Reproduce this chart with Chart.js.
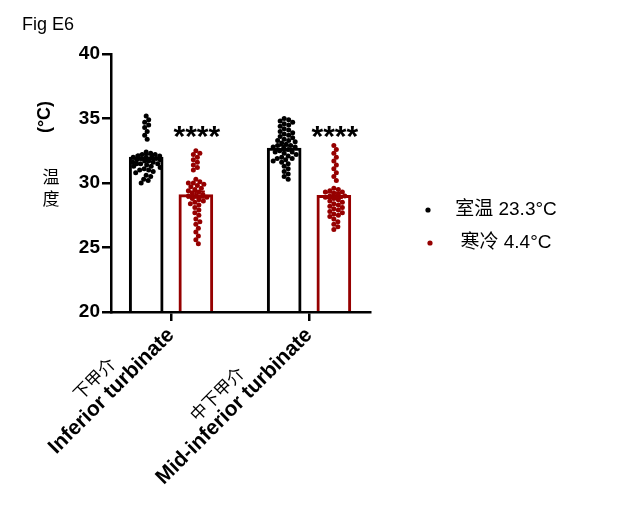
<!DOCTYPE html>
<html>
<head>
<meta charset="utf-8">
<script src="https://cdn.jsdelivr.net/npm/chart.js@4.4.1/dist/chart.umd.min.js"></script>
<style>
html,body{margin:0;padding:0;background:#fff;}
#wrap{width:625px;height:509px;position:relative;}
</style>
</head>
<body>
<div id="wrap"><canvas id="c" width="625" height="509"></canvas></div>
<script>
// ---------------- data ----------------
const categoriesEn = ['Inferior turbinate', 'Mid-inferior turbinate'];
const categoriesZh = ['下甲介', '中下甲介'];
const seriesNames = ['室温 23.3°C', '寒冷 4.4°C'];
const yTicks = [20, 25, 30, 35, 40];
const meanRoom = [32.0, 32.7];
const meanCold = [29.1, 29.05];
const semRoom = [0.2, 0.18];
const semCold = [0.25, 0.22];
const significance = ['****', '****'];

const pointsRoomInferior = [35.2, 34.9, 34.7, 34.5, 34.3, 34.0, 33.7, 33.4,
  32.4, 32.3, 32.2, 32.2, 32.1, 32.1, 32.0, 32.0, 32.0, 31.9, 31.9, 31.8, 31.8,
  31.7, 31.7, 31.6, 31.6, 31.5, 31.5, 31.4, 31.3, 31.2, 31.1, 31.0, 30.9, 30.8,
  30.6, 30.5, 30.3, 30.2, 30.0, 31.5, 31.3, 31.0];
const pointsColdInferior = [32.5, 32.3, 32.2, 32.0, 31.8, 31.6, 31.4, 31.2, 31.0,
  30.3, 30.1, 30.0, 30.0, 29.9, 29.8, 29.7, 29.6, 29.5, 29.4, 29.3, 29.2, 29.1,
  29.0, 29.0, 28.9, 28.8, 28.7, 28.6, 28.5, 28.4, 28.3, 28.1, 27.9, 27.7, 27.5,
  27.2, 27.0, 26.8, 26.5, 26.2, 25.9, 25.6, 25.3];
const pointsRoomMid = [35.0, 34.9, 34.8, 34.7, 34.6, 34.5, 34.4, 34.2, 34.1, 34.0,
  33.9, 33.8, 33.7, 33.6, 33.5, 33.4, 33.3, 33.2, 33.1, 33.0, 32.9, 32.9, 32.8,
  32.7, 32.6, 32.5, 32.4, 32.3, 32.2, 32.1, 32.0, 31.9, 31.8, 31.7, 31.6, 31.5,
  31.3, 31.1, 30.9, 30.7, 30.5, 30.3, 33.3, 32.8, 32.4, 31.9];
const pointsColdMid = [32.9, 32.6, 32.3, 32.0, 31.7, 31.4, 31.1, 30.8, 30.5, 30.2,
  29.6, 29.5, 29.4, 29.3, 29.3, 29.2, 29.1, 29.0, 29.0, 28.9, 28.8, 28.7, 28.6,
  28.5, 28.4, 28.3, 28.2, 28.1, 28.0, 27.9, 27.8, 27.7, 27.6, 27.5, 27.4, 27.2,
  27.0, 26.8, 26.6, 26.4];

// ---------------- styling ----------------
const BLACK = '#000000';
const RED = '#960000';
const GROUP_OFF = 0.18;
const LATIN = '"Liberation Sans", Arial, Helvetica';
const CJK = '"Noto Sans CJK SC"';

// simple beeswarm layout (x spread only, values untouched)
function swarm(values, center) {
  const pxX = 138, pxY = 12.9, d = 4.6, maxOff = 14;
  const placed = [];
  const sorted = values.slice().sort((a, b) => b - a);
  const out = [];
  for (const v of sorted) {
    const py = v * pxY;
    let best = null, bestScore = -1, bestOff = 0;
    for (let k = 0; k < 400; k++) {
      const off = (k % 2 ? 1 : -1) * Math.ceil(k / 2) * 0.5;
      if (Math.abs(off) > maxOff) break;
      let minD = Infinity;
      for (const q of placed) minD = Math.min(minD, Math.hypot(q.x - off, q.y - py));
      if (minD >= d) { best = off; break; }
      if (minD > bestScore) { bestScore = minD; bestOff = off; }
    }
    if (best === null) best = bestOff;
    placed.push({ x: best, y: py });
    out.push({ x: center + best / pxX, y: v });
  }
  return out;
}

const barRoom = meanRoom.map((v, i) => ({ x: i - GROUP_OFF, y: v }));
const barCold = meanCold.map((v, i) => ({ x: i + GROUP_OFF, y: v }));

const annot = {
  id: 'annot',
  afterDatasetsDraw(chart) {
    const { ctx, scales: { x, y } } = chart;
    ctx.save();
    const drawErr = (means, sems, off, color) => {
      means.forEach((m, i) => {
        const px = x.getPixelForValue(i + off);
        const top = y.getPixelForValue(m + sems[i]);
        const bot = y.getPixelForValue(m - sems[i]);
        ctx.strokeStyle = color; ctx.lineWidth = 2;
        ctx.beginPath();
        ctx.moveTo(px, top); ctx.lineTo(px, bot);
        ctx.moveTo(px - 9, top); ctx.lineTo(px + 9, top);
        ctx.moveTo(px - 9, bot); ctx.lineTo(px + 9, bot);
        ctx.stroke();
      });
    };
    drawErr(meanRoom, semRoom, -GROUP_OFF, BLACK);
    drawErr(meanCold, semCold, GROUP_OFF, RED);
    ctx.restore();
  },
  afterDraw(chart) {
    const { ctx, scales: { x, y } } = chart;
    ctx.save();
    ctx.fillStyle = '#000';
    ctx.font = '18px ' + LATIN;
    ctx.textAlign = 'left'; ctx.textBaseline = 'alphabetic';
    ctx.fillText('Fig E6', 22, 30);
    ctx.save();
    ctx.translate(45, 117);
    ctx.rotate(-Math.PI / 2);
    ctx.font = 'bold 18px ' + LATIN;
    ctx.textAlign = 'center'; ctx.textBaseline = 'middle';
    ctx.fillText('(°C)', 0, 0);
    ctx.restore();
    ctx.font = '17px ' + CJK;
    ctx.textAlign = 'center'; ctx.textBaseline = 'middle';
    ctx.fillText('温', 51, 177);
    ctx.fillText('度', 51, 199);
    ctx.font = 'bold 30px ' + LATIN;
    ctx.textAlign = 'center'; ctx.textBaseline = 'alphabetic';
    significance.forEach((s, i) => {
      ctx.fillText(s, x.getPixelForValue(i + GROUP_OFF) + 1, y.getPixelForValue(34.0) + 15);
    });
    const enFont = 'bold 21px ' + LATIN;
    categoriesZh.forEach((t, i) => {
      ctx.font = enFont;
      const L = ctx.measureText(categoriesEn[i]).width;
      ctx.save();
      ctx.translate(x.getPixelForValue(i), y.bottom + 12);
      ctx.rotate(-Math.PI / 4);
      ctx.font = '17px ' + CJK;
      ctx.textAlign = 'center'; ctx.textBaseline = 'middle';
      ctx.fillText(t, -L / 2 - 9, -16);
      ctx.restore();
    });
    const legend = [[BLACK, 428, 210], [RED, 430, 243]];
    ctx.font = '19px ' + LATIN + ', ' + CJK;
    ctx.textAlign = 'center'; ctx.textBaseline = 'middle';
    legend.forEach(([c, lx, ly], i) => {
      ctx.fillStyle = c;
      ctx.beginPath(); ctx.arc(lx, ly, 2.6, 0, Math.PI * 2); ctx.fill();
      ctx.fillStyle = '#000';
      ctx.fillText(seriesNames[i], 506, ly);
    });
    ctx.restore();
  }
};

new Chart(document.getElementById('c'), {
  type: 'bar',
  data: {
    datasets: [
      { type: 'scatter', label: seriesNames[0] + ' pts', data: swarm(pointsRoomInferior, -GROUP_OFF).concat(swarm(pointsRoomMid, 1 - GROUP_OFF)),
        backgroundColor: BLACK, borderWidth: 0, pointRadius: 2.5, order: 1 },
      { type: 'scatter', label: seriesNames[1] + ' pts', data: swarm(pointsColdInferior, GROUP_OFF).concat(swarm(pointsColdMid, 1 + GROUP_OFF)),
        backgroundColor: RED, borderWidth: 0, pointRadius: 2.5, order: 1 },
      { label: seriesNames[0], data: barRoom, backgroundColor: '#ffffff', borderColor: BLACK, borderWidth: 3,
        barThickness: 34, grouped: false, order: 3, clip: { left: 5, right: 5, top: 5, bottom: 0 } },
      { label: seriesNames[1], data: barCold, backgroundColor: '#ffffff', borderColor: RED, borderWidth: 3,
        barThickness: 34, grouped: false, order: 3, clip: { left: 5, right: 5, top: 5, bottom: 0 } }
    ]
  },
  options: {
    responsive: false,
    animation: false,
    devicePixelRatio: 1,
    layout: { padding: { top: 54, right: 255, left: 0, bottom: 0 } },
    plugins: { legend: { display: false }, tooltip: { enabled: false } },
    scales: {
      x: {
        type: 'linear', min: -0.435, max: 1.442, offset: false,
        afterBuildTicks: s => { s.ticks = categoriesEn.map((_, i) => ({ value: i })); },
        afterFit: s => { s.height = 197; },
        ticks: {
          callback: (v, i) => categoriesEn[i],
          minRotation: 45, maxRotation: 45, autoSkip: false, padding: 2,
          font: { family: LATIN, size: 21, weight: 'bold' }, color: '#000'
        },
        grid: { offset: false, drawOnChartArea: false, drawTicks: true, tickLength: 9, color: '#000', lineWidth: 2.5 },
        border: { display: true, color: '#000', width: 2.5, z: 1 }
      },
      y: {
        min: 20, max: 40,
        afterBuildTicks: s => { s.ticks = yTicks.map(v => ({ value: v })); },
        afterFit: s => { s.width = 111; },
        ticks: { padding: 2, font: { family: LATIN, size: 19, weight: 'bold' }, color: '#000' },
        grid: { drawOnChartArea: false, drawTicks: true, tickLength: 9, color: '#000', lineWidth: 2.5 },
        border: { display: true, color: '#000', width: 2.5, z: 1 }
      }
    }
  },
  plugins: [annot]
});
</script>
</body>
</html>
